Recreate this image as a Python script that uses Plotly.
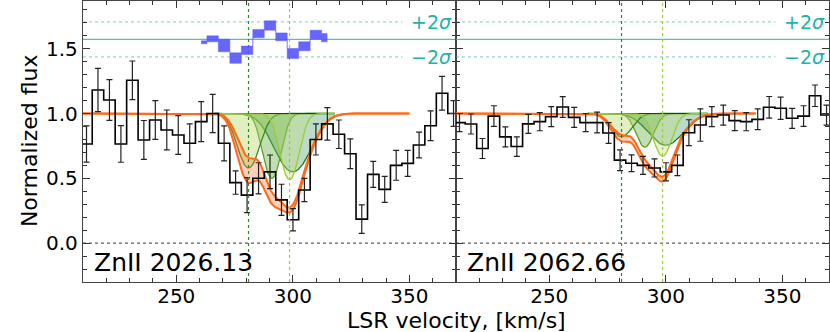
import numpy as np
import plotly.graph_objects as go

# ---------------- data ----------------
bin_start = 211.5      # first bin centre, km/s
bin_width = 4.92       # km/s
n_bins = 33

flux_2026 = [0.765, 1.181, 1.104, 0.765, 1.256, 0.796, 0.95, 0.873, 0.834, 0.770,
             0.937, 1.0, 0.77, 0.467, 0.37, 0.50, 0.55, 0.334, 0.18, 0.41,
             0.80, 0.92, 0.84, 0.69, 0.185, 0.53, 0.415, 0.60, 0.615, 0.757,
             0.905, 1.156, 1.0]
err_2026 = [0.14, 0.167, 0.157, 0.141, 0.149, 0.15, 0.149, 0.154, 0.15, 0.15,
            0.154, 0.148, 0.135, 0.09, 0.135, 0.12, 0.13, 0.12, 0.086, 0.09,
            0.12, 0.125, 0.11, 0.115, 0.11, 0.1, 0.1, 0.115, 0.1, 0.1,
            0.115, 0.13, 0.1]
flux_2062 = [0.93, 0.919, 0.73, 0.98, 0.82, 0.745, 0.92, 0.937, 0.976, 1.05,
             0.97, 0.93, 0.93, 0.85, 0.64, 0.616, 0.60, 0.58, 0.55, 0.60,
             0.852, 0.911, 0.976, 0.988, 0.945, 0.937, 0.955, 1.048, 1.04, 0.963,
             0.98, 1.137, 0.988]
err_2062 = [0.07, 0.077, 0.077, 0.08, 0.077, 0.075, 0.073, 0.07, 0.077, 0.08,
            0.077, 0.07, 0.08, 0.08, 0.08, 0.065, 0.07, 0.07, 0.07, 0.08,
            0.1, 0.125, 0.077, 0.077, 0.077, 0.07, 0.08, 0.083, 0.086, 0.077,
            0.08, 0.083, 0.077]

# residual band (left panel), bins 10..21, plotted at residual-panel level
resid_first_bin = 10
resid_hi = [1.561, 1.599, 1.572, 1.468, 1.520, 1.649, 1.715, 1.622, 1.502, 1.553, 1.643, 1.618]
resid_lo = [1.538, 1.553, 1.476, 1.387, 1.456, 1.584, 1.643, 1.561, 1.425, 1.484, 1.572, 1.553]
resid_zero = 1.572
resid_2sig = 0.135
resid_dotted_end = 347.0

# fit components: (centre km/s, minimum flux, gaussian sigma km/s)
comps_2026 = [(300.0, 0.55, 7.0), (291.0, 0.50, 3.5), (281.0, 0.58, 4.3), (298.6, 0.49, 3.6)]
comps_2062 = [(300.0, 0.755, 7.0), (291.0, 0.74, 3.5), (281.0, 0.82, 4.3), (298.6, 0.67, 3.6)]
# optical-depth scale of each component for the upper / lower edge of the model band
band_up_2026 = [0.95, 0.85, 0.72, 0.95]
band_lo_2026 = [1.05, 1.15, 1.35, 1.05]
band_up_2062 = [0.95, 0.9, 0.85, 0.95]
band_lo_2062 = [1.05, 1.1, 1.15, 1.05]
comp_range = (266.5, 318.0)
model_range_2026 = (210.0, 350.0)
model_range_2062 = (210.0, 338.6)
comp_line_colors = ["#1e7a1e", "#5aa02c", "#2e8b22", "#9acd32"]
comp_fill_colors = ["rgba(60,150,100,0.35)", "rgba(100,175,60,0.40)",
                    "rgba(180,215,100,0.40)", "rgba(195,222,120,0.35)"]
vlines = [(281.0, "#1f8f1f"), (298.6, "#9acd32")]

labels = ["ZnII 2026.13", "ZnII 2062.66"]
x_range = [210, 370]
y_range = [-0.3, 1.868]

FONT = "DejaVu Sans"

centres = bin_start + bin_width * np.arange(n_bins)
edges = np.append(centres - bin_width / 2, centres[-1] + bin_width / 2)


def tau_sum(v, comps, scales=None):
    t = np.zeros_like(v)
    for i, (c, fmin, s) in enumerate(comps):
        k = 1.0 if scales is None else scales[i]
        t += -np.log(fmin) * k * np.exp(-(v - c) ** 2 / (2 * s ** 2))
    return t


fig = go.Figure()

panels = [
    ("x", "y", flux_2026, err_2026, comps_2026, model_range_2026, band_up_2026, band_lo_2026),
    ("x2", "y2", flux_2062, err_2062, comps_2062, model_range_2062, band_up_2062, band_lo_2062),
]

for xa, ya, flux, err, comps, mrange, bup, blo in panels:
    # components
    vc = np.linspace(comp_range[0], comp_range[1], 300)
    for (c, fmin, s), lc, fc in zip(comps, comp_line_colors, comp_fill_colors):
        prof = np.exp(-tau_sum(vc, [(c, fmin, s)]))
        fig.add_trace(go.Scatter(x=vc, y=np.ones_like(vc), mode="lines",
                                 line=dict(color="#333333", width=1.2), xaxis=xa, yaxis=ya,
                                 showlegend=False, hoverinfo="skip"))
        fig.add_trace(go.Scatter(x=vc, y=prof, mode="lines", fill="tonexty", fillcolor=fc,
                                 line=dict(color=lc, width=1.3), xaxis=xa, yaxis=ya,
                                 showlegend=False, hoverinfo="skip"))
    # model band
    vm = np.linspace(mrange[0], mrange[1], 500)
    up = np.exp(-tau_sum(vm, comps, bup))
    lo = np.exp(-tau_sum(vm, comps, blo))
    fig.add_trace(go.Scatter(x=vm, y=up, mode="lines", line=dict(color="#ff6a1a", width=2),
                             xaxis=xa, yaxis=ya, showlegend=False, hoverinfo="skip"))
    fig.add_trace(go.Scatter(x=vm, y=lo, mode="lines", fill="tonexty",
                             fillcolor="rgba(255,120,60,0.35)",
                             line=dict(color="#ff6a1a", width=2),
                             xaxis=xa, yaxis=ya, showlegend=False, hoverinfo="skip"))
    # spectrum
    fig.add_trace(go.Scatter(x=edges, y=list(flux) + [flux[-1]], mode="lines",
                             line=dict(color="black", width=1.6, shape="hv"),
                             xaxis=xa, yaxis=ya, showlegend=False))
    fig.add_trace(go.Scatter(x=centres, y=flux, mode="markers", marker=dict(size=0.1, color="black"),
                             error_y=dict(type="data", array=err, color="#222222",
                                          thickness=1.2, width=3),
                             xaxis=xa, yaxis=ya, showlegend=False))
    # residual reference lines
    for lvl, dash, col, xr in [
        (resid_zero, "solid", "rgba(32,178,170,0.8)", x_range),
        (resid_zero + resid_2sig, "dot", "rgba(32,178,170,0.5)", [x_range[0], resid_dotted_end]),
        (resid_zero - resid_2sig, "dot", "rgba(32,178,170,0.5)", [x_range[0], resid_dotted_end]),
    ]:
        fig.add_trace(go.Scatter(x=xr, y=[lvl, lvl], mode="lines",
                                 line=dict(color=col, width=1.2, dash=dash),
                                 xaxis=xa, yaxis=ya, showlegend=False, hoverinfo="skip"))
    # zero line
    fig.add_trace(go.Scatter(x=x_range, y=[0, 0], mode="lines",
                             line=dict(color="black", width=0.8, dash="dot"),
                             xaxis=xa, yaxis=ya, showlegend=False, hoverinfo="skip"))
    # component velocity markers
    for vv, col in vlines:
        fig.add_trace(go.Scatter(x=[vv, vv], y=y_range, mode="lines",
                                 line=dict(color=col, width=1.2, dash="dot"),
                                 xaxis=xa, yaxis=ya, showlegend=False, hoverinfo="skip"))

# residual band (left panel)
rc = centres[resid_first_bin:resid_first_bin + len(resid_hi)]
fig.add_trace(go.Scatter(x=rc, y=resid_lo, mode="lines",
                         line=dict(color="rgba(85,85,255,0.9)", width=0.5, shape="hvh"),
                         xaxis="x", yaxis="y", showlegend=False, hoverinfo="skip"))
fig.add_trace(go.Scatter(x=rc, y=resid_hi, mode="lines", fill="tonexty",
                         fillcolor="rgba(85,85,255,0.9)",
                         line=dict(color="rgba(85,85,255,0.9)", width=0.5, shape="hvh"),
                         xaxis="x", yaxis="y", showlegend=False, hoverinfo="skip"))

axis_common = dict(range=x_range, dtick=50, tick0=0, ticks="inside", ticklen=7, tickwidth=1.2,
                   tickcolor="#333", showline=True, linecolor="#444", linewidth=1.3,
                   mirror="allticks", showgrid=False, zeroline=False, ticklabelstandoff=-4,
                   minor=dict(dtick=10, ticks="inside", ticklen=4, tickcolor="#333", showgrid=False),
                   tickfont=dict(family=FONT, size=20, color="black"))
yaxis_common = dict(range=y_range, dtick=0.5, tick0=0, ticks="inside", ticklen=7, tickwidth=1.2,
                    tickcolor="#333", showline=True, linecolor="#444", linewidth=1.3,
                    mirror="allticks", showgrid=False, zeroline=False, tickformat=".1f",
                    minor=dict(dtick=0.1, ticks="inside", ticklen=4, tickcolor="#333", showgrid=False),
                    tickfont=dict(family=FONT, size=20, color="black"))

fig.update_layout(
    width=830, height=332,
    margin=dict(l=83, r=1, t=1, b=50),
    plot_bgcolor="white", paper_bgcolor="white",
    xaxis=dict(domain=[0, 0.5], anchor="y", **axis_common),
    xaxis2=dict(domain=[0.5, 1.0], anchor="y2", **axis_common),
    yaxis=dict(anchor="x", **yaxis_common),
    yaxis2=dict(anchor="x2", matches="y", showticklabels=False, **yaxis_common),
)

annotations = []
for xa_ref, yr, lab in [("x domain", "y", labels[0]), ("x2 domain", "y2", labels[1])]:
    annotations.append(dict(text=lab, xref=xa_ref, yref=yr,
                            x=0.025, y=-0.152, xanchor="left", yanchor="middle", showarrow=False,
                            font=dict(family=FONT, size=25, color="black")))
    annotations.append(dict(text="+2<i>σ</i>", xref=xa_ref, yref=yr, x=0.995,
                            y=resid_zero + resid_2sig, xanchor="right", yanchor="middle",
                            showarrow=False, font=dict(family=FONT, size=19, color="#20b2aa")))
    annotations.append(dict(text="\u22122<i>σ</i>", xref=xa_ref, yref=yr, x=0.995,
                            y=resid_zero - resid_2sig, xanchor="right", yanchor="middle",
                            showarrow=False, font=dict(family=FONT, size=19, color="#20b2aa")))
annotations.append(dict(text="LSR velocity, [km/s]", xref="paper", yref="paper", x=0.5, y=-0.138,
                        xanchor="center", yanchor="middle", showarrow=False,
                        font=dict(family=FONT, size=22, color="black")))
annotations.append(dict(text="Normalized flux", xref="paper", yref="paper", x=-0.0724, y=0.505,
                        xanchor="center", yanchor="middle", textangle=-90, showarrow=False,
                        font=dict(family=FONT, size=22, color="black")))
fig.update_layout(annotations=annotations)

fig.write_html("out.html", post_script="document.body.style.margin='0';",
               config={"displayModeBar": False})
